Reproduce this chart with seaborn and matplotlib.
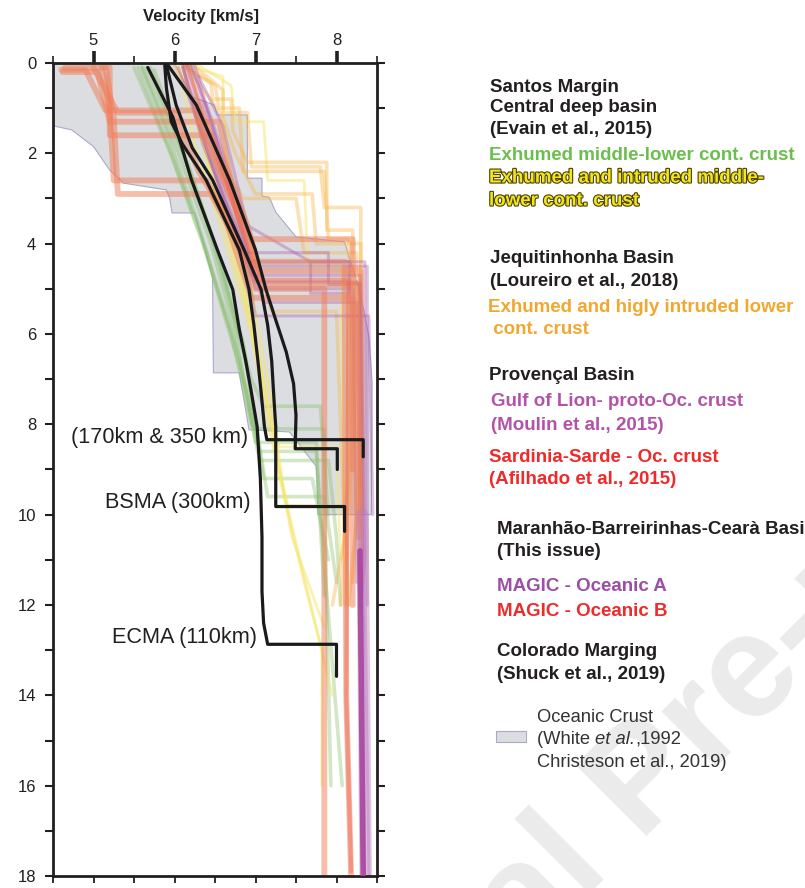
import matplotlib
matplotlib.use("Agg")
import matplotlib.pyplot as plt
import matplotlib.patheffects as pe
import numpy as np
import pandas as pd
import seaborn as sns

# ---------------------------------------------------------------- data
# Every profile is a list of (velocity km/s, depth km) vertices.

# Oceanic crust envelope (White et al., 1992; Christeson et al., 2019)
OCEANIC_ENVELOPE = [
    (4.5, 0.0), (6.0, 0.0), (6.21, 0.74), (6.49, 0.93), (6.53, 1.15),
    (6.9, 1.15), (6.9, 2.55), (7.08, 2.55), (7.08, 2.95), (7.17, 2.97),
    (7.25, 3.3), (7.5, 3.85), (8.1, 3.96), (8.3, 5.13), (8.4, 6.06),
    (8.44, 7.08), (8.43, 10.0), (7.77, 10.0), (7.76, 9.29), (7.75, 8.93),
    (7.42, 8.17), (6.92, 8.12), (6.8, 6.86), (6.48, 6.86), (6.47, 4.75),
    (6.25, 3.32), (5.97, 3.32), (5.94, 2.99), (5.9, 2.81), (5.37, 2.66),
    (5.2, 2.37), (5.0, 1.85), (4.73, 1.48), (4.5, 1.39),
]

# Santos margin - exhumed middle-lower continental crust
SANTOS_EXHUMED = [
    [(5.5, 0.1), (5.95, 2.0), (6.35, 4.0), (6.7, 6.0), (6.95, 8.0), (7.0, 8.1),
     (7.85, 8.1), (7.85, 9.8), (7.93, 16.0)],
    [(5.6, 0.1), (6.05, 2.0), (6.45, 4.0), (6.75, 6.0), (7.0, 8.4), (7.75, 8.4),
     (7.8, 10.0), (8.07, 16.0)],
    [(5.55, 0.1), (6.0, 2.2), (6.4, 4.2), (6.8, 6.5), (7.05, 8.8), (7.9, 8.8),
     (8.0, 10.5), (8.05, 12.0)],
    [(5.65, 0.1), (6.1, 2.0), (6.5, 4.0), (6.85, 6.2), (7.1, 9.2), (7.7, 9.2),
     (7.9, 11.0)],
    [(5.7, 0.1), (6.15, 2.2), (6.55, 4.3), (6.9, 6.8), (7.15, 9.6), (7.85, 9.6),
     (8.0, 11.5)],
    [(5.75, 0.15), (6.2, 2.4), (6.45, 3.8), (6.95, 7.0), (7.1, 7.6), (7.8, 7.6),
     (7.9, 10.0)],
    [(5.6, 0.1), (5.9, 1.5), (6.3, 3.6), (6.6, 5.5), (6.9, 7.3), (7.05, 8.6),
     (7.75, 8.6), (7.85, 11.8)],
]

# Santos margin - exhumed and intruded middle-lower continental crust
SANTOS_INTRUDED = [
    [(6.1, 0.05), (6.3, 1.5), (6.55, 3.0), (6.85, 5.0), (7.1, 7.0), (7.3, 9.2),
     (7.6, 11.5), (7.82, 13.0), (7.82, 16.0)],
    [(6.15, 0.05), (6.6, 0.3), (6.6, 1.2), (6.7, 3.0), (6.95, 5.0), (7.2, 7.5),
     (7.35, 9.5), (7.95, 14.0)],
    [(6.2, 0.05), (6.4, 2.0), (6.8, 4.5), (7.05, 6.5), (7.25, 8.5), (7.45, 10.5),
     (7.85, 12.5)],
    [(6.05, 0.05), (6.25, 1.8), (6.6, 3.8), (6.95, 6.0), (7.2, 8.0), (7.3, 8.5),
     (8.0, 8.5), (8.05, 11.0)],
    [(6.1, 0.1), (6.45, 2.5), (6.9, 5.5), (7.15, 8.0), (7.4, 9.8), (8.1, 9.8),
     (8.15, 12.0)],
    [(6.25, 0.0), (6.7, 0.5), (6.75, 1.3), (7.1, 1.3), (7.15, 2.6), (7.6, 2.6),
     (7.65, 4.5), (8.05, 4.5), (8.1, 10.0)],
]

# Jequitinhonha basin - exhumed and highly intruded lower continental crust
JEQUITINHONHA = [
    [(6.05, 0.0), (6.45, 0.45), (6.47, 0.8), (6.7, 0.8), (6.72, 1.5), (6.9, 2.2),
     (7.88, 2.2), (7.88, 3.7), (8.2, 3.7), (8.2, 8.0), (8.1, 12.0)],
    [(6.1, 0.0), (6.5, 0.5), (6.55, 1.0), (6.8, 1.0), (6.85, 2.4), (7.85, 2.4),
     (7.9, 3.9), (8.15, 3.9), (8.15, 9.0), (8.05, 12.0)],
    [(6.15, 0.05), (6.4, 0.7), (6.6, 1.2), (6.75, 2.0), (7.0, 2.9), (7.7, 2.9),
     (7.75, 4.0), (8.3, 4.0), (8.3, 8.5), (8.2, 11.5)],
    [(6.0, 0.05), (6.3, 1.0), (6.55, 2.0), (6.85, 3.0), (7.5, 3.0), (7.6, 4.2),
     (8.25, 4.2), (8.25, 10.0), (8.15, 12.0)],
    [(6.1, 0.1), (6.35, 1.5), (6.6, 2.5), (6.95, 4.0), (7.2, 5.5), (8.0, 5.5),
     (8.1, 10.5), (7.95, 12.0)],
    [(6.2, 0.0), (6.6, 0.6), (6.6, 1.1), (6.9, 1.1), (6.95, 2.3), (7.8, 2.3),
     (7.85, 3.2), (8.3, 3.2), (8.3, 9.5)],
]

# Provencal basin - Gulf of Lion proto-oceanic crust
GULF_OF_LION = [
    [(6.15, 0.0), (6.4, 1.5), (6.7, 3.0), (6.9, 4.4), (8.35, 4.4), (8.35, 11.0),
     (8.3, 12.0)],
    [(6.1, 0.05), (6.35, 1.8), (6.75, 3.6), (6.95, 4.7), (8.3, 4.7), (8.35, 18.0)],
    [(6.2, 0.0), (6.5, 1.6), (6.8, 3.4), (7.0, 5.0), (8.2, 5.0), (8.25, 11.5)],
    [(6.05, 0.1), (6.3, 1.4), (6.65, 3.2), (6.85, 4.2), (7.9, 4.2), (7.9, 4.9),
     (8.3, 4.9), (8.4, 18.0)],
    [(6.25, 0.05), (6.55, 1.9), (6.85, 3.9), (7.1, 5.3), (8.25, 5.3), (8.3, 12.2)],
    [(6.1, 0.1), (6.45, 2.2), (6.9, 4.6), (7.0, 5.6), (8.4, 5.6), (8.45, 10.0)],
    [(6.3, 0.3), (6.6, 1.4), (6.9, 3.6), (7.68, 4.4), (8.16, 4.4), (8.16, 5.1),
     (7.68, 5.1), (7.68, 4.4)],
    [(6.18, 0.0), (6.45, 1.2), (6.8, 3.1), (6.95, 4.5), (8.38, 4.5), (8.38, 12.0)],
    [(6.12, 0.05), (6.38, 1.6), (6.72, 3.4), (6.98, 4.85), (8.28, 4.85), (8.32, 11.0)],
]

# Provencal basin - Sardinia oceanic crust
SARDINIA = [
    [(4.6, 0.15), (4.9, 0.15), (5.15, 1.05), (6.25, 1.05), (6.5, 2.2), (6.8, 3.4),
     (6.95, 3.9), (8.2, 3.9), (8.2, 12.0)],
    [(4.62, 0.2), (5.05, 0.2), (5.2, 1.3), (6.55, 1.3), (6.7, 2.6), (6.9, 3.6),
     (7.05, 4.6), (8.3, 4.6), (8.3, 11.5)],
    [(5.1, 0.1), (5.2, 1.0), (5.25, 2.6), (6.4, 2.6), (6.65, 3.5), (6.9, 4.4),
     (8.1, 4.4), (8.12, 14.0), (8.18, 18.0)],
    [(5.15, 0.1), (5.25, 1.2), (5.3, 2.9), (6.45, 2.9), (6.75, 3.9), (7.0, 5.0),
     (7.85, 5.0), (7.85, 18.0)],
    [(4.65, 0.1), (5.2, 0.1), (5.2, 1.6), (6.45, 1.6), (6.6, 2.5), (6.85, 3.7),
     (7.1, 4.9), (8.25, 4.9), (8.28, 10.5)],
    [(5.0, 0.1), (5.3, 1.1), (6.0, 1.1), (6.3, 2.4), (6.6, 3.3), (6.95, 5.2),
     (8.2, 5.2), (8.2, 9.0)],
]

# Maranhao-Barreirinhas-Ceara basin (MAGIC)
MAGIC_A = [[(8.29, 10.8), (8.33, 18.05)]]
MAGIC_A_BAND = [[(8.32, 10.0), (8.36, 18.0)]]
MAGIC_B = [[(6.15, 0.05), (6.5, 1.8), (6.85, 3.8), (7.05, 4.8), (8.15, 4.8),
            (8.12, 14.0), (8.18, 17.9)]]

# Colorado margin (Shuck et al., 2019)
COLORADO = {
    "ECMA (110km)": [(5.67, 0.1), (5.98, 1.2), (6.21, 2.59), (6.53, 4.14), (6.72, 5.02),
                     (6.8, 5.9), (6.88, 6.6), (6.95, 7.3), (7.02, 8.05), (7.06, 9.2),
                     (7.08, 10.5), (7.08, 11.7), (7.1, 12.4), (7.15, 12.87), (8.0, 12.87),
                     (8.0, 13.58)],
    "(170km)": [(5.88, 0.05), (5.9, 0.55), (5.96, 1.3), (6.1, 1.8), (6.39, 2.59),
                (6.8, 4.14), (6.92, 5.02), (6.98, 5.8), (7.03, 6.6), (7.07, 7.3),
                (7.11, 8.05), (7.14, 8.34), (8.33, 8.34), (8.33, 8.72)],
    "BSMA (300km)": [(5.9, 0.05), (6.02, 0.93), (6.22, 1.88), (6.47, 2.59), (6.86, 4.14),
                     (7.07, 5.02), (7.15, 5.8), (7.2, 6.6), (7.23, 7.5), (7.25, 8.05),
                     (7.25, 9.82), (8.1, 9.82), (8.1, 10.37)],
    "(350km)": [(5.92, 0.05), (6.27, 0.93), (6.68, 2.59), (7.0, 4.14), (7.13, 5.02),
                (7.25, 5.69), (7.38, 6.4), (7.47, 7.1), (7.5, 7.8), (7.49, 8.54),
                (8.01, 8.54), (8.01, 9.0)],
}
PROFILE_LABELS = [("(170km & 350 km)", 6.91, 8.30),
                  ("BSMA (300km)", 6.94, 9.74),
                  ("ECMA (110km)", 7.02, 12.71)]

VELOCITY_TICKS = [5, 6, 7, 8]
DEPTH_TICKS = list(range(0, 19, 2))


def profile_frame(profiles):
    rows = []
    for i, prof in enumerate(profiles):
        for k, (v, d) in enumerate(prof):
            rows.append((i, k, v, d))
    return pd.DataFrame(rows, columns=["profile", "order", "velocity", "depth"])


def draw_profiles(ax, profiles, zorder=2, **kw):
    sns.lineplot(data=profile_frame(profiles), x="velocity", y="depth",
                 units="profile", estimator=None, sort=False, ax=ax,
                 legend=False, zorder=zorder, **kw)


# ---------------------------------------------------------------- style
sns.set_style("ticks")
plt.rcParams["font.family"] = ["Liberation Sans", "DejaVu Sans"]
INK = "#231f20"

fig = plt.figure(figsize=(8.05, 8.88), dpi=100)
fig.patch.set_facecolor("white")

# faint watermark behind everything
fig.text(646 / 805, 1 - 784 / 888, "Journal Pre-proof", fontsize=106,
         fontweight="bold", color="#ebebeb", rotation=45, ha="center", va="center",
         rotation_mode="anchor", zorder=0)

ax = fig.add_axes([53 / 805, 1 - 876 / 888, (377 - 53) / 805, (876 - 63) / 888])
ax.set_facecolor("none")

env = np.array(OCEANIC_ENVELOPE)
ax.fill(env[:, 0], env[:, 1], facecolor="#dcdde0", edgecolor="#a9a9cf",
        linewidth=0.8, zorder=1)

draw_profiles(ax, SANTOS_EXHUMED, color="#86c06a", alpha=0.38, linewidth=2.6)
draw_profiles(ax, SANTOS_INTRUDED, color="#f6e66a", alpha=0.5, linewidth=2.0)
draw_profiles(ax, JEQUITINHONHA, color="#f7b850", alpha=0.42, linewidth=2.6)
draw_profiles(ax, GULF_OF_LION, color="#a955a8", alpha=0.36, linewidth=2.2)
draw_profiles(ax, SARDINIA, color="#f07d58", alpha=0.5, linewidth=4.2)
draw_profiles(ax, MAGIC_B, color="#ee6a55", alpha=0.5, linewidth=3.0)
draw_profiles(ax, MAGIC_A_BAND, color="#b87ec0", alpha=0.45, linewidth=9)
draw_profiles(ax, MAGIC_A, zorder=3, color="#a8449e", alpha=0.9, linewidth=4)
draw_profiles(ax, list(COLORADO.values()), zorder=4, color="#1a1a1a", linewidth=2.3)

for label, x, y in PROFILE_LABELS:
    ax.text(x, y, label, ha="right", va="center", fontsize=15.6, color=INK, zorder=5)

# axes
ax.set_xlim(4.5, 8.5)
ax.set_ylim(18, 0)
ax.set_xlabel("")
ax.set_ylabel("")
for s in ax.spines.values():
    s.set_linewidth(2.0)
    s.set_color(INK)

ax.set_xticks(np.arange(4.5, 8.51, 0.5))
ax.tick_params(axis="x", which="major", bottom=True, top=False, labelbottom=False,
               labeltop=False, direction="out", length=5, width=1.3, color=INK)
ax.set_yticks(DEPTH_TICKS)
ax.set_yticks(range(1, 18, 2), minor=True)
ax.tick_params(axis="y", which="both", left=True, right=True, labelleft=True,
               labelright=False, direction="out", length=6, width=1.5, color=INK,
               labelsize=12, labelcolor=INK, pad=6)

top = ax.secondary_xaxis("top")
top.set_xticks(VELOCITY_TICKS)
top.set_xticks(np.arange(4.5, 8.51, 1.0), minor=True)
top.tick_params(which="major", direction="out", length=9, width=2.6, color=INK,
                labelsize=12, labelcolor=INK, pad=2)
top.tick_params(which="minor", direction="out", length=5, width=1.2, color=INK)
top.spines["top"].set_visible(False)
fig.text(201 / 805, 1 - 17 / 888, "Velocity [km/s]", fontsize=12, fontweight="bold",
         color=INK, ha="center", va="center")

# ---------------------------------------------------------------- key
def ftxt(xpx, ypx, s, color=INK, weight="bold", size=13.5, **kw):
    return fig.text(xpx / 805, 1 - ypx / 888, s, color=color, fontweight=weight,
                    fontsize=size, ha="left", va="center", **kw)

ftxt(490, 87, "Santos Margin")
ftxt(490, 108, "Central deep basin")
ftxt(490, 130, "(Evain et al., 2015)")
ftxt(489, 155, "Exhumed middle-lower cont. crust", color="#6cbf4e")
yellow_fx = [pe.withStroke(linewidth=1.6, foreground="#4a4000")]
ftxt(489, 178, "Exhumed and intruded middle-", color="#f3e51c", path_effects=yellow_fx)
ftxt(489, 201, "lower cont. crust", color="#f3e51c", path_effects=yellow_fx)

ftxt(490, 258, "Jequitinhonha Basin")
ftxt(490, 281, "(Loureiro et al., 2018)")
ftxt(488, 308, "Exhumed and higly intruded lower", color="#f0a830")
ftxt(488, 330, " cont. crust", color="#f0a830")

ftxt(489, 375, "Provençal Basin")
ftxt(491, 402, "Gulf of Lion- proto-Oc. crust", color="#b353a8")
ftxt(491, 425, "(Moulin et al., 2015)", color="#b353a8")
ftxt(489, 457, "Sardinia-Sarde - Oc. crust", color="#ee2a2a")
ftxt(489, 479, "(Afilhado et al., 2015)", color="#ee2a2a")

ftxt(497, 530, "Maranhão-Barreirinhas-Cearà Basin")
ftxt(497, 551, "(This issue)")
ftxt(497, 586, "MAGIC - Oceanic A", color="#9c4ea6")
ftxt(497, 611, "MAGIC - Oceanic B", color="#ee2a2a")
ftxt(497, 651, "Colorado Marging")
ftxt(497, 674, "(Shuck et al., 2019)")

fig.patches.append(plt.Rectangle((496 / 805, 1 - 742 / 888), 30 / 805, 11 / 888,
                                 transform=fig.transFigure, facecolor="#dcdde0",
                                 edgecolor="#a9a9cf", linewidth=0.8))
GREY_TXT = dict(weight="normal", size=13.2, color="#333333")
ftxt(537, 717, "Oceanic Crust", **GREY_TXT)
renderer = fig.canvas.get_renderer()
t1 = ftxt(537, 739, "(White ", **GREY_TXT)
x_px = 537 + t1.get_window_extent(renderer).width
t2 = ftxt(x_px, 739, "et al.", style="italic", **GREY_TXT)
x_px += t2.get_window_extent(renderer).width
ftxt(x_px, 739, ",1992", **GREY_TXT)
ftxt(537, 762, "Christeson et al., 2019)", **GREY_TXT)

fig.savefig("out.png", dpi=100, facecolor="white")
